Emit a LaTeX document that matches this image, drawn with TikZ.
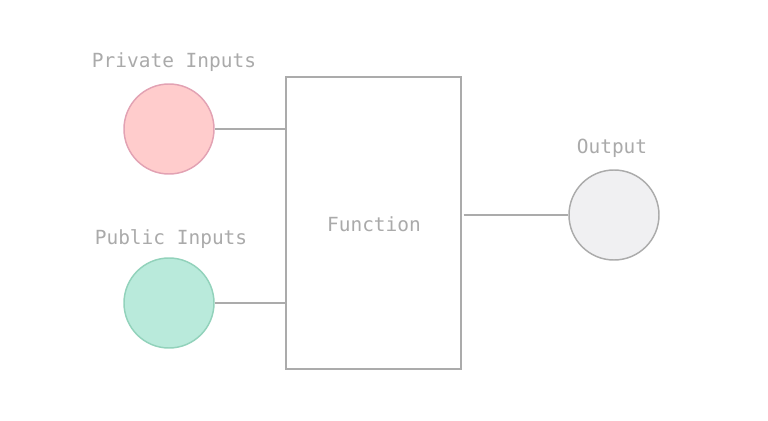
\documentclass[tikz,border=0pt]{standalone}
\usepackage{fontspec}
\setmonofont{DejaVu Sans Mono}
\usepackage[HTML]{xcolor}
\usepackage{tikz}
\usetikzlibrary{positioning}

\definecolor{linegray}{HTML}{ABABAB}
\definecolor{textgray}{HTML}{AAAAAA}
\definecolor{privfill}{HTML}{FFCCCC}
\definecolor{privline}{HTML}{E2A2B3}
\definecolor{pubfill}{HTML}{B9EADB}
\definecolor{publine}{HTML}{92D2BB}
\definecolor{outfill}{HTML}{F0F0F2}

\tikzset{
  lbl/.style={font=\ttfamily\fontsize{14.6pt}{16pt}\selectfont, text=textgray},
  ball/.style={circle, minimum size=67.5pt, inner sep=0pt, line width=1.1pt},
  wire/.style={draw=linegray, line width=1.1pt}
}

\begin{document}
\begin{tikzpicture}[x=0.75pt, y=-0.75pt]
\useasboundingbox (0,0) rectangle (768,421);

\node[ball, fill=privfill, draw=privline] (Priv) at (169,129) {};
\node[ball, fill=pubfill, draw=publine] (Pub) at (169,303) {};
\node[ball, fill=outfill, draw=linegray] (Out) at (614,215) {};
\node[draw=linegray, line width=1.1pt, minimum width=131.25pt, minimum height=219pt, inner sep=0pt] (Fn) at (373.5,223) {};

\node[lbl] (PrivLbl) at (174,62) {Private Inputs};
\node[lbl] (PubLbl) at (171,239) {Public Inputs};
\node[lbl] (OutLbl) at (612,148) {Output};
\node[lbl] (FnLbl) at (374,224) {Function};

\draw[wire] (Priv.east) -- (Priv.east -| Fn.west);
\draw[wire] (Pub.east) -- (Pub.east -| Fn.west);
\draw[wire] ([xshift=1.5pt]Fn.east |- Out.west) -- (Out.west);
\end{tikzpicture}
\end{document}
